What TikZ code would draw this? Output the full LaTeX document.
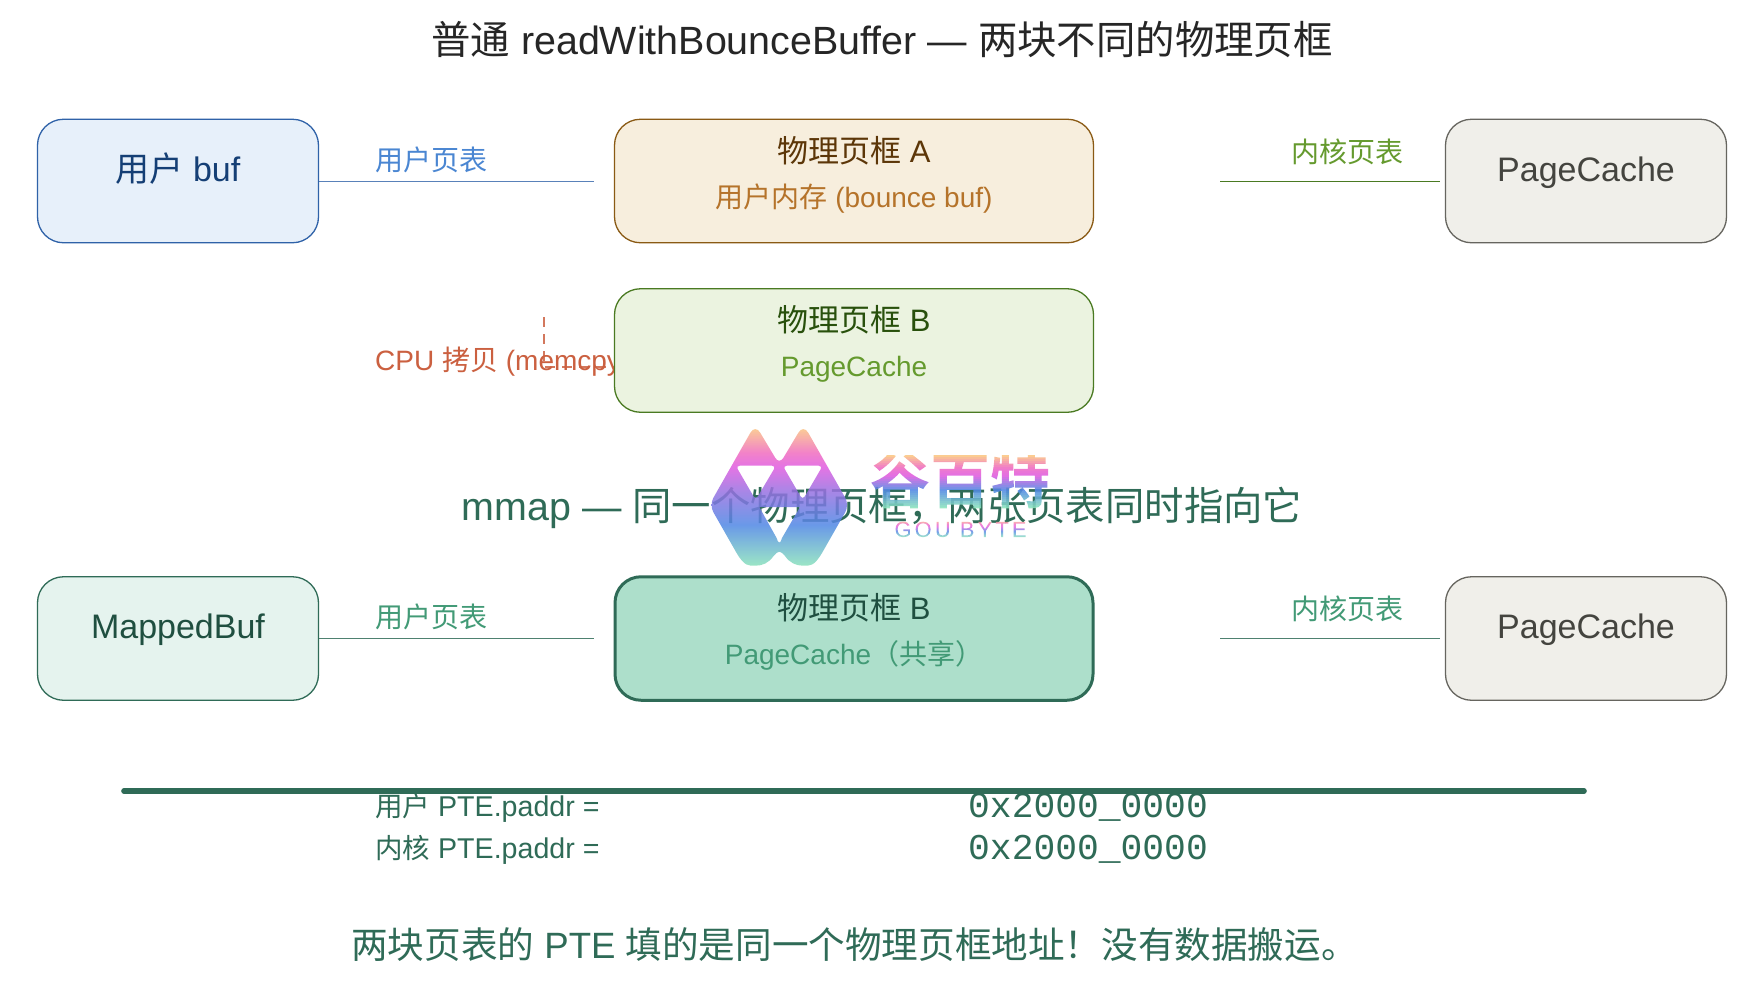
\documentclass[tikz,border=0pt]{standalone}
\usepackage{fontspec}
\setmainfont{Liberation Sans}
\newfontfamily\cjk{Noto Sans CJK SC}
\newfontfamily\cjkb{Noto Sans CJK SC Bold}
\newfontfamily\monof{Liberation Mono}
\newfontfamily\wmlat[LetterSpace=14]{Liberation Sans}
\newcommand{\fs}[1]{\fontsize{#1pt}{#1pt}\selectfont}
\definecolor{dkgreen}{HTML}{2F6B57}
\definecolor{wmO}{HTML}{FBC582}
\definecolor{wmP}{HTML}{F06CC0}
\definecolor{wmM}{HTML}{E05CE0}
\definecolor{wmB}{HTML}{5088E4}
\definecolor{wmT}{HTML}{8CE4BC}
\definecolor{bluefill}{HTML}{E7F0FA}
\definecolor{bluedraw}{HTML}{2F62A8}
\definecolor{bluetext}{HTML}{153F75}
\definecolor{bluelbl}{HTML}{4A86D2}
\definecolor{amberfill}{HTML}{F7EEDD}
\definecolor{amberdraw}{HTML}{8A5A14}
\definecolor{ambertext}{HTML}{5C3608}
\definecolor{ambersub}{HTML}{B5732A}
\definecolor{greenfill}{HTML}{EBF3E0}
\definecolor{greendraw}{HTML}{4A7A22}
\definecolor{greentext}{HTML}{28500C}
\definecolor{greensub}{HTML}{659A2E}
\definecolor{grayfill}{HTML}{F0EFEA}
\definecolor{graydraw}{HTML}{66655F}
\definecolor{graytext}{HTML}{44443F}
\definecolor{mintfill}{HTML}{E5F3EE}
\definecolor{minttext}{HTML}{1F4F40}
\definecolor{tealfill}{HTML}{ADDFCB}
\definecolor{teallbl}{HTML}{429A76}
\definecolor{cpu}{HTML}{CB6040}
\pgfdeclareverticalshading{wmgrad}{100bp}{color(0bp)=(wmT); color(25bp)=(wmT); color(40bp)=(wmB); color(52bp)=(wmB!50!wmM); color(61bp)=(wmM); color(66bp)=(wmP); color(75bp)=(wmO); color(100bp)=(wmO)}
% colour of the watermark gradient at t in [0,1]
\newcommand{\setwm}[1]{%
 \pgfmathsetmacro\wmt{#1}%
 \ifdim\wmt pt<.22pt
  \pgfmathsetmacro\wmp{\wmt/.22*100}\colorlet{wmcur}{wmP!\wmp!wmO}%
 \else\ifdim\wmt pt<.38pt
  \pgfmathsetmacro\wmp{(\wmt-.22)/.16*100}\colorlet{wmcur}{wmM!\wmp!wmP}%
 \else\ifdim\wmt pt<.66pt
  \pgfmathsetmacro\wmp{(\wmt-.38)/.28*100}\colorlet{wmcur}{wmB!\wmp!wmM}%
 \else
  \pgfmathsetmacro\wmp{min(100,(\wmt-.66)/.34*100)}\colorlet{wmcur}{wmT!\wmp!wmB}%
 \fi\fi\fi}
% gradient-filled text: the glyphs become a clip, bands of colour are painted through it
\newbox\wmbox
\def\wmsplit#1,#2,#3\relax{\def\wmR{#1}\def\wmG{#2}\def\wmB{#3}}
\newcommand{\wmbuild}[4]{% width bp, top bp, bottom bp, bands
 \gdef\wmrects{}%
 \pgfmathtruncatemacro\wmlast{#4-1}%
 \pgfmathsetmacro\wmh{(#2-(#3))/#4}%
 \foreach \i in {0,...,\wmlast}{%
  \setwm{\i/\wmlast}%
  \extractcolorspecs{wmcur}{\wmm}{\wmc}%
  \convertcolorspec{\wmm}{\wmc}{rgb}{\wmr}%
  \expandafter\wmsplit\wmr\relax
  \pgfmathsetmacro\wmy{#2-(\i+1)*\wmh}%
  \xdef\wmrects{\wmrects\space\wmR\space\wmG\space\wmB\space rg -10 \wmy\space #1 \wmh\space re f}%
 }}
\newcommand{\wmtext}[4]{% text, top, bottom, bands
 \setbox\wmbox=\hbox{#1}%
 \pgfmathsetmacro\wmw{\wd\wmbox*0.996264+20}%
 \wmbuild{\wmw}{#2}{#3}{#4}%
 \special{pdf:code q 7 Tr}\copy\wmbox\kern-\wd\wmbox\special{pdf:content \wmrects}\kern\wd\wmbox\special{pdf:code Q}}
\tikzset{
 x=1pt,y=-1pt,
 box/.style={draw,rounded corners=26pt,inner sep=0pt,line width=1.3pt,minimum width=#1,minimum height=123.5pt},
 box/.default=281pt,
 lbl/.style={anchor=base,inner sep=0pt},
 lblw/.style={anchor=base west,inner sep=0pt},
 conn/.style={line width=1pt},
}
\begin{document}
\begin{tikzpicture}
\useasboundingbox (0,0) rectangle (1764,994);
\fill[white] (0,0) rectangle (1764,994);
\node[lbl,text=black!85] (title1) at (882,54) {\fs{39.4}{\cjk 普通} readWithBounceBuffer — {\cjk 两块不同的物理页框}};

% coordinates for free connector ends
\coordinate (ae) at (594,181);
\coordinate (af) at (1220,181);
\coordinate (ce) at (594,638.5);
\coordinate (cf) at (1220,638.5);
\coordinate (d0) at (544,317);
\coordinate (d1) at (544,367);
\coordinate (d2) at (614,367);
\coordinate (r0) at (124,791);
\coordinate (r1) at (1584,791);

% row 1
\node[box,fill=bluefill,draw=bluedraw] (ub) at (178,181) {};
\node[lbl,text=bluetext] (ubt) at (178,181) {\fs{34}{\cjk 用户} buf};
\node[box=479pt,fill=amberfill,draw=amberdraw] (fa) at (854,181) {};
\node[lbl,text=ambertext] (fat) at (854,162) {\fs{31}{\cjk 物理页框} A};
\node[lbl,text=ambersub] (fas) at (854,207) {\fs{28}{\cjk 用户内存} (bounce buf)};
\node[box,fill=grayfill,draw=graydraw] (pc1) at (1586,181) {};
\node[lbl,text=graytext] (pc1t) at (1586,181) {\fs{34}PageCache};
\draw[conn,draw=bluedraw!80] (ub.east) -- (ae);
\draw[conn,draw=greendraw,shorten >=5pt] (af) -- (pc1.west);
\node[lbl,text=bluelbl] (l1) at (431,170) {\fs{28}\cjk 用户页表};
\node[lbl,text=greensub] (l2) at (1347,162) {\fs{28}\cjk 内核页表};

% CPU copy
\draw[line width=1.4pt,draw=cpu!85,dash pattern=on 10pt off 7pt] (d0) -- (d1) -- (d2);
\node[lblw,text=cpu] (cpul) at (375,370) {\fs{28}CPU {\cjk 拷贝} (memcpy)};
\node[box=479pt,fill=greenfill,draw=greendraw] (fb) at (854,350.5) {};
\node[lbl,text=greentext] (fbt) at (854,331) {\fs{31}{\cjk 物理页框} B};
\node[lbl,text=greensub] (fbs) at (854,376) {\fs{28}PageCache};

% mmap
\node[lbl,text=dkgreen] (title2) at (882,520) {\fs{39.4}mmap — {\cjk 同一个物理页框，两张页表同时指向它}};
\node[box,fill=mintfill,draw=dkgreen] (mb) at (178,638.5) {};
\node[lbl,text=minttext] (mbt) at (178,638) {\fs{34}MappedBuf};
\node[box=478pt,fill=tealfill,draw=dkgreen,line width=3pt] (fc) at (854,638.5) {};
\node[lbl,text=minttext] (fct) at (854,619) {\fs{31}{\cjk 物理页框} B};
\node[lbl,text=teallbl] (fcs) at (854,664) {\fs{28}PageCache{\cjk （共享）}};
\node[box,fill=grayfill,draw=graydraw] (pc2) at (1586,638.5) {};
\node[lbl,text=graytext] (pc2t) at (1586,638) {\fs{34}PageCache};
\draw[conn,draw=dkgreen!85] (mb.east) -- (ce);
\draw[conn,draw=dkgreen!85,shorten >=5pt] (cf) -- (pc2.west);
\node[lbl,text=teallbl] (l3) at (431,627) {\fs{28}\cjk 用户页表};
\node[lbl,text=teallbl] (l4) at (1347,619) {\fs{28}\cjk 内核页表};

% rule and PTE
\draw[line width=5.6pt,draw=dkgreen,line cap=round] (r0) -- (r1);
\node[lblw,text=dkgreen] (p1) at (375,816) {\fs{28.6}{\fs{27.5}\cjk 用户} PTE.paddr =};
\node[lblw,text=dkgreen] (p2) at (375,858) {\fs{28.6}{\fs{27.5}\cjk 内核} PTE.paddr =};
\node[lbl,text=dkgreen] (a1) at (1088,817) {\fs{36.3}\monof 0x2000\_0000};
\node[lbl,text=dkgreen] (a2) at (1088,859) {\fs{36.3}\monof 0x2000\_0000};
\node[lblw,text=dkgreen] (foot) at (351,958) {\fs{36.6}{\cjk 两块页表的} PTE {\cjk 填的是同一个物理页框地址！没有数据搬运。}};

% watermark
\shade[shading=wmgrad,fill opacity=.85,even odd rule]
  (783.25,458) -- (798.4,432.7) .. controls (801.1,427.9) and (805.5,427.9) .. (808.2,432.7)
  -- (845.35,498) .. controls (847.5,501.9) and (847.5,508.1) .. (845.35,512)
  -- (822,553) .. controls (814,566.5) and (810,565.7) .. (803.3,565.7)
  .. controls (796,565.7) and (790,563) .. (785,556)
  .. controls (783,553.5) and (781,551.7) .. (779.3,551.7)
  .. controls (777.6,551.7) and (775.6,553.5) .. (773.6,556)
  .. controls (768.6,563) and (762.6,565.7) .. (755.3,565.7)
  .. controls (748.6,565.7) and (744.6,566.5) .. (736.6,553)
  -- (713.25,512) .. controls (711.1,508.1) and (711.1,501.9) .. (713.25,498)
  -- (750.4,432.7) .. controls (753.1,427.9) and (757.5,427.9) .. (760.2,432.7)
  -- (775.35,458) .. controls (777.5,461.6) and (781.1,461.6) .. (783.25,458) -- cycle
  [rounded corners=4pt] (735.7,465.7) -- (776,465.7) -- (755.7,500) -- cycle
  (782.7,465.7) -- (822.7,465.7) -- (802.7,500) -- cycle
  [sharp corners] (759.3,507) -- (800,507) -- (782,538) .. controls (780.5,544) and (778.1,544) .. (776.6,538) -- cycle;
\node[lbl,text opacity=.88] (wmname) at (960,503) {\wmtext{\fontsize{60pt}{60pt}\cjkb 谷百特}{48}{-6}{27}};
\node[lbl,text opacity=.8] (wmsub) at (960.5,537) {\wmtext{\fontsize{22pt}{22pt}\wmlat GOU BYTE}{17}{-1}{18}};
\end{tikzpicture}
\end{document}
